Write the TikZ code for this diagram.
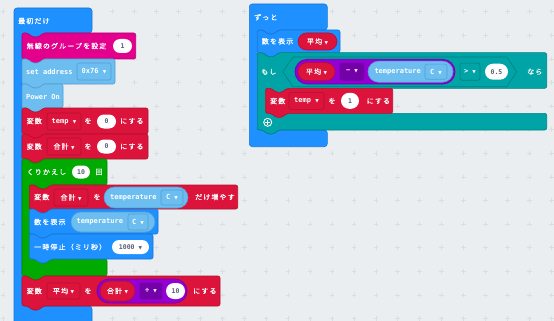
\documentclass[tikz,border=0pt]{standalone}
\usepackage{fontspec}
\usetikzlibrary{shapes.misc}
\newfontfamily\jp{Noto Sans CJK JP}[LetterSpace=16,FakeBold=0.8]
\newfontfamily\mono{DejaVu Sans Mono}
\newfontfamily\symf{DejaVu Sans}
\newcommand\dd{{\symf\fontsize{4.5}{5}\selectfont ▼}}
\newcommand\jdd{\hspace{2.5pt}\dd}
\definecolor{bgc}{RGB}{234,238,240}
\definecolor{gridc}{RGB}{216,222,226}
\definecolor{mblue}{RGB}{30,144,255}
\definecolor{mblueD}{RGB}{24,118,214}
\definecolor{lblue}{RGB}{108,189,240}
\definecolor{lblueD}{RGB}{82,160,212}
\definecolor{mpink}{RGB}{227,0,140}
\definecolor{mpinkD}{RGB}{186,0,115}
\definecolor{mred}{RGB}{220,20,60}
\definecolor{mredD}{RGB}{178,16,48}
\definecolor{mgreen}{RGB}{0,170,0}
\definecolor{mgreenD}{RGB}{0,136,0}
\definecolor{mteal}{RGB}{0,164,166}
\definecolor{mtealD}{RGB}{0,128,130}
\definecolor{mpurp}{RGB}{148,0,211}
\definecolor{mpurpD}{RGB}{116,0,168}
\definecolor{numc}{RGB}{87,94,117}
\newcommand\stmtblk[6]{%
 \path[fill=#5,draw=#6,line width=0.6pt,rounded corners=2pt,shift={(#1,#2)}]
 (0,0) -- (6,0) -- (10,4) -- (17,4) -- (21,0) -- (#3,0) -- (#3,#4) -- (21,#4) -- (17,#4+4) -- (10,#4+4) -- (6,#4) -- (0,#4) -- cycle;}
\newcommand\cblk[9]{%
 \path[fill=#8,draw=#9,line width=0.6pt,rounded corners=2pt,shift={(#1,#2)}]
 (0,0) -- (6,0) -- (10,4) -- (17,4) -- (21,0) -- (#3,0) -- (#3,#4) -- (29,#4) -- (25,#4+4) -- (18,#4+4) -- (14,#4) -- (8,#4) -- (8,#5) -- (14,#5) -- (18,#5+4) -- (25,#5+4) -- (29,#5) -- (#7,#5) -- (#7,#6) -- (21,#6) -- (17,#6+4) -- (10,#6+4) -- (6,#6) -- (0,#6) -- cycle;}
\newcommand\hatblk[9]{%
 \path[fill=#8,draw=#9,line width=0.6pt,rounded corners=3pt,shift={(#1,#2)}]
 (0,0) -- (#3,0) -- (#3,#4) -- (29,#4) -- (25,#4+4) -- (18,#4+4) -- (14,#4) -- (8,#4) -- (8,#5) -- (14,#5) -- (18,#5+4) -- (25,#5+4) -- (29,#5) -- (#7,#5) -- (#7,#6) -- (0,#6) -- cycle;}
\tikzset{
 jl/.style={anchor=west,inner sep=0,text=white,font=\jp\fontsize{7}{8}\selectfont},
 jc/.style={inner sep=0,text=white,font=\jp\fontsize{7}{8}\selectfont},
 ml/.style={anchor=west,inner sep=0,text=white,font=\mono\bfseries\fontsize{7}{8}\selectfont},
 fbox/.style={rectangle,rounded corners=2pt,inner sep=0,line width=0.6pt,text=white},
 mfont/.style={font=\mono\bfseries\fontsize{7}{8}\selectfont},
 jfont/.style={font=\jp\fontsize{7}{8}\selectfont},
 wov/.style={rounded rectangle,fill=white,inner sep=0,text=numc,font=\mono\bfseries\fontsize{6.5}{7}\selectfont},
 rov/.style={rounded rectangle,fill=mred,draw=mredD,line width=0.6pt,inner sep=0,text=white,jfont},
 lov/.style={rounded rectangle,fill=lblue,draw=lblueD,line width=0.6pt,inner sep=0},
 pov/.style={rounded rectangle,fill=mpurp,draw=mpurpD,line width=0.8pt,inner sep=0},
}
\begin{document}
\begin{tikzpicture}[x=1pt,y=-1pt]
\useasboundingbox (0,0) rectangle (554,321);
\fill[bgc] (0,0) rectangle (554,321);
\clip (0,0) rectangle (554,321);
% grid
\foreach \i in {0,...,25} \foreach \j in {0,...,13} {
 \draw[gridc,line width=0.5pt] ({3+\i*21.93-2.3},{11.7+\j*23.6}) -- ++(4.6,0)
   ({3+\i*21.93},{11.7+\j*23.6-2.3}) -- ++(0,4.6);}
% ===== left stack: 最初だけ =====
\hatblk{14}{8}{78}{25}{298}{330}{78}{mblue}{mblueD}
\node[jl] (hs) at (18,21) {最初だけ};
\stmtblk{22}{33}{113.7}{26}{mpink}{mpinkD}
\node[jl] (rg) at (26.5,46) {無線のグループを設定};
\node[wov,minimum width=19pt,minimum height=14pt] (rg1) at (122.5,46) {1};
\stmtblk{22}{59}{93}{25}{lblue}{lblueD}
\node[ml] (sa) at (26,71.5) {set address};
\node[fbox,fill=lblue,draw=lblueD,mfont,minimum width=34pt,minimum height=17pt] (sa1) at (94,71.5) {0x76\ \dd};
\stmtblk{22}{84}{41}{24}{lblue}{lblueD}
\node[ml] (po) at (26,96.5) {Power On};
% temp = 0
\stmtblk{22}{108}{126}{26}{mred}{mredD}
\node[jl] (v1) at (26.5,121) {変数};
\node[fbox,fill=mred,draw=mredD,mfont,minimum width=34pt,minimum height=17pt] (v1a) at (64,121.5) {temp\ \dd};
\node[jc] (v1b) at (88,121) {を};
\node[wov,minimum width=19pt,minimum height=14pt] (v1c) at (106.5,121.5) {0};
\node[jl] (v1d) at (120,121) {にする};
% 合計 = 0
\stmtblk{22}{134}{126}{25}{mred}{mredD}
\node[jl] (v2) at (26.5,146.5) {変数};
\node[fbox,fill=mred,draw=mredD,jfont,minimum width=34pt,minimum height=17pt] (v2a) at (64,146.5) {合計\jdd};
\node[jc] (v2b) at (88,146.5) {を};
\node[wov,minimum width=19pt,minimum height=14pt] (v2c) at (106.5,146.5) {0};
\node[jl] (v2d) at (120,146.5) {にする};
% repeat
\cblk{22}{159}{85}{26}{100}{117}{85}{mgreen}{mgreenD}
\node[jl] (lp) at (26.5,172) {くりかえし};
\node[wov,minimum width=18pt,minimum height=13pt] (lp1) at (81,172) {10};
\node[jc] (lp2) at (99,172) {回};
% 合計 += temperature
\stmtblk{29.3}{185}{208.4}{24}{mred}{mredD}
\node[jl] (v3) at (34,197) {変数};
\node[fbox,fill=mred,draw=mredD,jfont,minimum width=34pt,minimum height=17pt] (v3a) at (71,197.5) {合計\jdd};
\node[jc] (v3b) at (97,197) {を};
\node[lov,minimum width=84pt,minimum height=21pt] (v3c) at (146,197.5) {};
\node[ml] (v3d) at (110,197.5) {temperature};
\node[fbox,fill=lblue,draw=lblueD,mfont,minimum width=22pt,minimum height=15pt] (v3e) at (172,197.5) {C\ \dd};
\node[jl] (v3f) at (195,197) {だけ増やす};
% show number
\stmtblk{29.3}{209}{128.7}{25}{mblue}{mblueD}
\node[jl] (sn) at (34,222) {数を表示};
\node[lov,minimum width=84pt,minimum height=20pt] (sn1) at (113,222) {};
\node[ml] (sn2) at (76.5,222) {temperature};
\node[fbox,fill=lblue,draw=lblueD,mfont,minimum width=20pt,minimum height=16pt] (sn3) at (138,222) {C\ \dd};
% pause
\stmtblk{29.3}{234}{123.7}{25}{mblue}{mblueD}
\node[jl] (ps) at (34,247) {一時停止（ミリ秒）};
\node[wov,minimum width=37pt,minimum height=14pt] (ps1) at (130.5,247) {1000\ \dd};
% 平均 = 合計 / 10
\stmtblk{22}{276}{198}{30}{mred}{mredD}
\node[jl] (v4) at (26.5,291) {変数};
\node[fbox,fill=mred,draw=mredD,jfont,minimum width=33pt,minimum height=16pt] (v4a) at (63.5,291) {平均\jdd};
\node[jc] (v4b) at (88,291) {を};
\node[pov,minimum width=90pt,minimum height=24pt] (v4c) at (142,291) {};
\node[rov,minimum width=35pt,minimum height=20pt] (v4d) at (117.5,291) {合計\jdd};
\node[fbox,fill=mpurpD,draw=mpurpD,mfont,minimum width=22pt,minimum height=16pt] (v4e) at (151,291) {÷\ \dd};
\node[wov,minimum width=19pt,minimum height=16pt] (v4f) at (175.5,291) {10};
\node[jl] (v4g) at (193,291) {にする};
% ===== right stack: ずっと =====
\hatblk{249.3}{4}{78}{26}{126}{142.7}{78}{mblue}{mblueD}
\node[jl] (fe) at (254,17.3) {ずっと};
\stmtblk{257.3}{30}{82.7}{22.7}{mblue}{mblueD}
\node[jl] (fs) at (261.7,41.3) {数を表示};
\node[rov,minimum width=39pt,minimum height=17pt] (fs1) at (317.5,41.5) {平均\jdd};
% if
\cblk{257.3}{52.7}{289.4}{35.6}{60.6}{77.3}{289.4}{mteal}{mtealD}
\node[jl] (if) at (261,71.8) {もし};
\path[fill=mteal,draw=mtealD,line width=0.6pt] (282.7,71.8) -- (293,57) -- (506.7,57) -- (516.7,71.8) -- (506.7,86.7) -- (293,86.7) -- cycle;
\node[pov,minimum width=160pt,minimum height=24.7pt] (if1) at (375,71.7) {};
\node[rov,minimum width=37pt,minimum height=18pt] (if2) at (316.5,71.7) {平均\jdd};
\node[fbox,fill=mpurpD,draw=mpurpD,mfont,minimum width=24pt,minimum height=17pt] (if3) at (352,71.7) {−\ \dd};
\node[lov,minimum width=85pt,minimum height=21pt] (if4) at (410.5,71.7) {};
\node[ml] (if5) at (374.3,71.7) {temperature};
\node[fbox,fill=lblue,draw=lblueD,mfont,minimum width=22pt,minimum height=15pt] (if6) at (436,71.7) {C\ \dd};
\node[fbox,fill=mteal,draw=mtealD,mfont,minimum width=20pt,minimum height=17pt] (if7) at (470,71.7) {>\ \dd};
\node[wov,minimum width=23pt,minimum height=16pt] (if8) at (496.5,71.7) {0.5};
\node[jl] (if9) at (527,71.7) {なら};
% temp = 1
\stmtblk{265.7}{88.3}{127}{25}{mred}{mredD}
\node[jl] (v5) at (270,101) {変数};
\node[fbox,fill=mred,draw=mredD,mfont,minimum width=35pt,minimum height=17pt] (v5a) at (306.5,100.8) {temp\ \dd};
\node[jc] (v5b) at (332,101) {を};
\node[wov,minimum width=18pt,minimum height=16pt] (v5c) at (350,100.8) {1};
\node[jl] (v5d) at (366.5,101) {にする};
% plus icon
\draw[white,line width=0.9pt] (267.7,122.3) circle (4);
\draw[white,line width=1pt] (265.4,122.3) -- (270,122.3) (267.7,120) -- (267.7,124.6);
\end{tikzpicture}
\end{document}
